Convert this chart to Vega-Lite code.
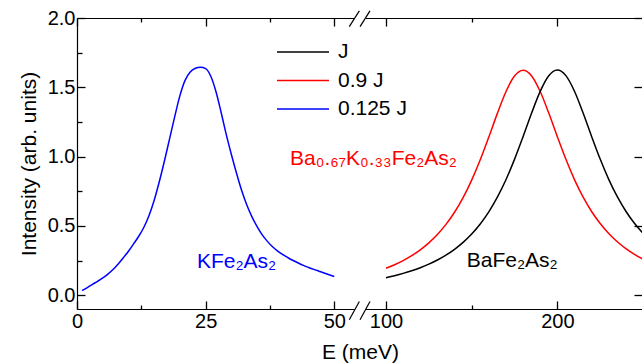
{
  "$schema": "https://vega.github.io/schema/vega-lite/v6.json",
  "width": 566,
  "height": 291,
  "autosize": {"type": "none"},
  "padding": {"left": 77, "top": 18, "right": 0, "bottom": 55},
  "background": "white",
  "config": {
    "view": {"stroke": null},
    "font": "Liberation Sans",
    "axis": {
      "grid": false,
      "domainColor": "black",
      "domainWidth": 1.2,
      "tickColor": "black",
      "tickWidth": 1.3,
      "labelColor": "black",
      "titleColor": "black",
      "labelFont": "Liberation Sans",
      "titleFont": "Liberation Sans",
      "labelFontSize": 20,
      "titleFontSize": 21,
      "titleFontWeight": "normal"
    }
  },
  "datasets": {
    "curves": [
      {"E": 1, "I": 0.033, "s": "0.125 J"},
      {"E": 2, "I": 0.055, "s": "0.125 J"},
      {"E": 3, "I": 0.078, "s": "0.125 J"},
      {"E": 4, "I": 0.1, "s": "0.125 J"},
      {"E": 5, "I": 0.124, "s": "0.125 J"},
      {"E": 6, "I": 0.152, "s": "0.125 J"},
      {"E": 7, "I": 0.185, "s": "0.125 J"},
      {"E": 8, "I": 0.225, "s": "0.125 J"},
      {"E": 9, "I": 0.27, "s": "0.125 J"},
      {"E": 10, "I": 0.317, "s": "0.125 J"},
      {"E": 11, "I": 0.37, "s": "0.125 J"},
      {"E": 12, "I": 0.425, "s": "0.125 J"},
      {"E": 13, "I": 0.49, "s": "0.125 J"},
      {"E": 14, "I": 0.575, "s": "0.125 J"},
      {"E": 15, "I": 0.685, "s": "0.125 J"},
      {"E": 16, "I": 0.82, "s": "0.125 J"},
      {"E": 17, "I": 0.97, "s": "0.125 J"},
      {"E": 18, "I": 1.13, "s": "0.125 J"},
      {"E": 19, "I": 1.29, "s": "0.125 J"},
      {"E": 20, "I": 1.44, "s": "0.125 J"},
      {"E": 21, "I": 1.55, "s": "0.125 J"},
      {"E": 22, "I": 1.61, "s": "0.125 J"},
      {"E": 23, "I": 1.637, "s": "0.125 J"},
      {"E": 24, "I": 1.645, "s": "0.125 J"},
      {"E": 25, "I": 1.635, "s": "0.125 J"},
      {"E": 26, "I": 1.58, "s": "0.125 J"},
      {"E": 27, "I": 1.47, "s": "0.125 J"},
      {"E": 28, "I": 1.32, "s": "0.125 J"},
      {"E": 29, "I": 1.16, "s": "0.125 J"},
      {"E": 30, "I": 1.015, "s": "0.125 J"},
      {"E": 31, "I": 0.88, "s": "0.125 J"},
      {"E": 32, "I": 0.755, "s": "0.125 J"},
      {"E": 33, "I": 0.65, "s": "0.125 J"},
      {"E": 34, "I": 0.565, "s": "0.125 J"},
      {"E": 35, "I": 0.495, "s": "0.125 J"},
      {"E": 36, "I": 0.435, "s": "0.125 J"},
      {"E": 37, "I": 0.388, "s": "0.125 J"},
      {"E": 38, "I": 0.349, "s": "0.125 J"},
      {"E": 39, "I": 0.318, "s": "0.125 J"},
      {"E": 40, "I": 0.292, "s": "0.125 J"},
      {"E": 41, "I": 0.27, "s": "0.125 J"},
      {"E": 42, "I": 0.25, "s": "0.125 J"},
      {"E": 43, "I": 0.232, "s": "0.125 J"},
      {"E": 44, "I": 0.215, "s": "0.125 J"},
      {"E": 45, "I": 0.2, "s": "0.125 J"},
      {"E": 46, "I": 0.186, "s": "0.125 J"},
      {"E": 47, "I": 0.173, "s": "0.125 J"},
      {"E": 48, "I": 0.16, "s": "0.125 J"},
      {"E": 49, "I": 0.147, "s": "0.125 J"},
      {"E": 50, "I": 0.135, "s": "0.125 J"},
      {"E": 100, "I": 0.194, "s": "0.9 J"},
      {"E": 105, "I": 0.2195, "s": "0.9 J"},
      {"E": 110, "I": 0.2496, "s": "0.9 J"},
      {"E": 115, "I": 0.2851, "s": "0.9 J"},
      {"E": 120, "I": 0.3272, "s": "0.9 J"},
      {"E": 125, "I": 0.3775, "s": "0.9 J"},
      {"E": 130, "I": 0.4378, "s": "0.9 J"},
      {"E": 135, "I": 0.5105, "s": "0.9 J"},
      {"E": 140, "I": 0.5983, "s": "0.9 J"},
      {"E": 145, "I": 0.704, "s": "0.9 J"},
      {"E": 150, "I": 0.83, "s": "0.9 J"},
      {"E": 155, "I": 0.9768, "s": "0.9 J"},
      {"E": 160, "I": 1.141, "s": "0.9 J"},
      {"E": 165, "I": 1.3117, "s": "0.9 J"},
      {"E": 170, "I": 1.4682, "s": "0.9 J"},
      {"E": 175, "I": 1.5812, "s": "0.9 J"},
      {"E": 180, "I": 1.623, "s": "0.9 J"},
      {"E": 185, "I": 1.5818, "s": "0.9 J"},
      {"E": 190, "I": 1.4695, "s": "0.9 J"},
      {"E": 195, "I": 1.3137, "s": "0.9 J"},
      {"E": 200, "I": 1.1437, "s": "0.9 J"},
      {"E": 205, "I": 0.9802, "s": "0.9 J"},
      {"E": 210, "I": 0.834, "s": "0.9 J"},
      {"E": 215, "I": 0.7088, "s": "0.9 J"},
      {"E": 220, "I": 0.6038, "s": "0.9 J"},
      {"E": 225, "I": 0.5167, "s": "0.9 J"},
      {"E": 230, "I": 0.4447, "s": "0.9 J"},
      {"E": 235, "I": 0.3851, "s": "0.9 J"},
      {"E": 240, "I": 0.3356, "s": "0.9 J"},
      {"E": 245, "I": 0.2943, "s": "0.9 J"},
      {"E": 250, "I": 0.2596, "s": "0.9 J"},
      {"E": 100, "I": 0.126, "s": "J"},
      {"E": 105, "I": 0.1406, "s": "J"},
      {"E": 110, "I": 0.1572, "s": "J"},
      {"E": 115, "I": 0.1763, "s": "J"},
      {"E": 120, "I": 0.1982, "s": "J"},
      {"E": 125, "I": 0.2238, "s": "J"},
      {"E": 130, "I": 0.2538, "s": "J"},
      {"E": 135, "I": 0.2891, "s": "J"},
      {"E": 140, "I": 0.331, "s": "J"},
      {"E": 145, "I": 0.3811, "s": "J"},
      {"E": 150, "I": 0.4413, "s": "J"},
      {"E": 155, "I": 0.5138, "s": "J"},
      {"E": 160, "I": 0.6015, "s": "J"},
      {"E": 165, "I": 0.7071, "s": "J"},
      {"E": 170, "I": 0.8329, "s": "J"},
      {"E": 175, "I": 0.9796, "s": "J"},
      {"E": 180, "I": 1.1437, "s": "J"},
      {"E": 185, "I": 1.3143, "s": "J"},
      {"E": 190, "I": 1.4706, "s": "J"},
      {"E": 195, "I": 1.5835, "s": "J"},
      {"E": 200, "I": 1.6252, "s": "J"},
      {"E": 205, "I": 1.584, "s": "J"},
      {"E": 210, "I": 1.4716, "s": "J"},
      {"E": 215, "I": 1.3158, "s": "J"},
      {"E": 220, "I": 1.1456, "s": "J"},
      {"E": 225, "I": 0.982, "s": "J"},
      {"E": 230, "I": 0.8358, "s": "J"},
      {"E": 235, "I": 0.7105, "s": "J"},
      {"E": 240, "I": 0.6055, "s": "J"},
      {"E": 245, "I": 0.5183, "s": "J"},
      {"E": 250, "I": 0.4463, "s": "J"}
    ]
  },
  "layer": [
    {
      "data": {"name": "curves"},
      "mark": {"type": "line", "interpolate": "monotone", "strokeWidth": 1.5},
      "encoding": {
        "x": {
          "field": "E",
          "type": "quantitative",
          "scale": {"domain": [0, 50, 100, 250], "range": [0, 257.3, 309, 566], "nice": false, "zero": false},
          "axis": {
            "orient": "bottom",
            "values": [0, 12.5, 25, 37.5, 50, 100, 150, 200, 250],
            "labelExpr": "(datum.value == 0 || datum.value == 25 || datum.value == 50 || datum.value == 100 || datum.value == 200) ? datum.label : ''",
            "tickSize": {"condition": {"test": "datum.value == 12.5 || datum.value == 37.5 || datum.value == 150 || datum.value == 250", "value": -4}, "value": -8},
            "labelPadding": 10,
            "labelFlush": false,
            "labelOverlap": false,
            "title": "E (meV)",
            "titlePadding": 6
          }
        },
        "y": {
          "field": "I",
          "type": "quantitative",
          "scale": {"domain": [-0.1, 2.0], "nice": false, "zero": false},
          "axis": {
            "orient": "left",
            "values": [0, 0.25, 0.5, 0.75, 1.0, 1.25, 1.5, 1.75, 2.0],
            "labelExpr": "datum.value % 0.5 == 0 ? format(datum.value, '.1f') : ''",
            "tickSize": {"condition": {"test": "datum.value % 0.5 != 0", "value": -5}, "value": -8},
            "labelPadding": 10,
            "labelFlush": false,
            "labelOverlap": false,
            "title": "Intensity (arb. units)",
            "titlePadding": 8
          }
        },
        "color": {
          "field": "s",
          "type": "nominal",
          "scale": {"domain": ["J", "0.9 J", "0.125 J"], "range": ["#000000", "#ff0000", "#0000ff"]},
          "legend": {
            "orient": "none",
            "legendX": 199,
            "legendY": 23,
            "title": null,
            "padding": 0,
            "symbolType": "stroke",
            "symbolSize": 2704,
            "symbolStrokeWidth": 1.5,
            "labelFontSize": 21,
            "labelFont": "Liberation Sans",
            "labelColor": "black",
            "labelOffset": 8,
            "clipHeight": 22,
            "rowPadding": 6.5
          }
        }
      }
    },
    {
      "data": {"values": [{}]},
      "layer": [
        {
          "mark": {"type": "rule", "color": "white", "strokeWidth": 4},
          "encoding": {
            "x": {
              "datum": 69.8,
              "type": "quantitative",
              "axis": {
                "orient": "top",
                "values": [0, 12.5, 25, 37.5, 50, 100, 150, 200, 250],
                "labels": false,
                "title": null,
                "tickSize": {"condition": {"test": "datum.value == 12.5 || datum.value == 37.5 || datum.value == 150 || datum.value == 250", "value": -4}, "value": -8}
              }
            },
            "x2": {"datum": 80.6},
            "y": {
              "datum": 2.0,
              "type": "quantitative",
              "axis": {
                "orient": "right",
                "values": [0, 0.25, 0.5, 0.75, 1.0, 1.25, 1.5, 1.75, 2.0],
                "labels": false,
                "title": null,
                "tickSize": {"condition": {"test": "datum.value % 0.5 != 0", "value": -4}, "value": -9}
              }
            }
          }
        },
        {
          "mark": {"type": "rule", "color": "white", "strokeWidth": 4},
          "encoding": {
            "x": {"datum": 69.8, "type": "quantitative"},
            "x2": {"datum": 80.6},
            "y": {"datum": -0.1, "type": "quantitative"}
          }
        },
        {
          "mark": {"type": "rule", "color": "black", "strokeWidth": 1.2},
          "encoding": {
            "x": {"datum": 64.5, "type": "quantitative"},
            "x2": {"datum": 74.2},
            "y": {"datum": 1.938, "type": "quantitative"},
            "y2": {"datum": 2.051}
          }
        },
        {
          "mark": {"type": "rule", "color": "black", "strokeWidth": 1.2},
          "encoding": {
            "x": {"datum": 74.9, "type": "quantitative"},
            "x2": {"datum": 84.5},
            "y": {"datum": 1.938, "type": "quantitative"},
            "y2": {"datum": 2.051}
          }
        },
        {
          "mark": {"type": "rule", "color": "black", "strokeWidth": 1.2},
          "encoding": {
            "x": {"datum": 64.5, "type": "quantitative"},
            "x2": {"datum": 74.2},
            "y": {"datum": -0.178, "type": "quantitative"},
            "y2": {"datum": -0.046}
          }
        },
        {
          "mark": {"type": "rule", "color": "black", "strokeWidth": 1.2},
          "encoding": {
            "x": {"datum": 74.9, "type": "quantitative"},
            "x2": {"datum": 84.5},
            "y": {"datum": -0.178, "type": "quantitative"},
            "y2": {"datum": -0.046}
          }
        },
        {
          "mark": {"type": "text", "color": "#0000ff", "fontSize": 21, "font": "Liberation Sans", "align": "left", "baseline": "alphabetic"},
          "encoding": {
            "x": {"datum": 23.3, "type": "quantitative"},
            "y": {"datum": 0.196, "type": "quantitative"},
            "text": {"value": "KFe₂As₂"}
          }
        },
        {
          "mark": {"type": "text", "color": "#ff0000", "fontSize": 21, "font": "Liberation Sans", "align": "left", "baseline": "alphabetic"},
          "encoding": {
            "x": {"datum": 41.4, "type": "quantitative"},
            "y": {"datum": 0.939, "type": "quantitative"},
            "text": {"value": "Ba₀.₆₇K₀.₃₃Fe₂As₂"}
          }
        },
        {
          "mark": {"type": "text", "color": "black", "fontSize": 21, "font": "Liberation Sans", "align": "left", "baseline": "alphabetic"},
          "encoding": {
            "x": {"datum": 147.1, "type": "quantitative"},
            "y": {"datum": 0.206, "type": "quantitative"},
            "text": {"value": "BaFe₂As₂"}
          }
        }
      ]
    }
  ],
  "resolve": {"axis": {"x": "independent", "y": "independent"}}
}
